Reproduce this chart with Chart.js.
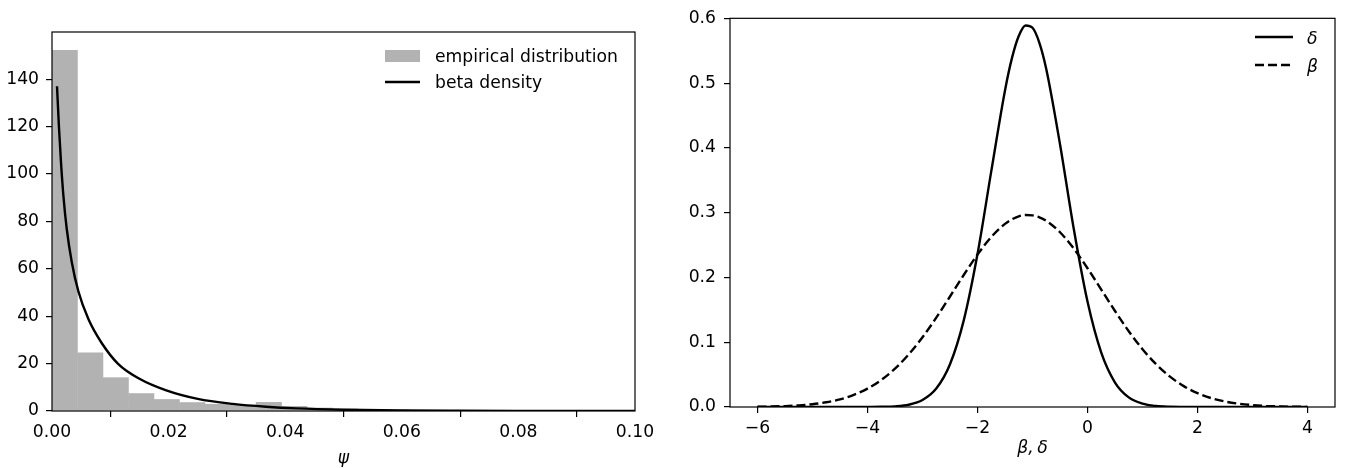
<!DOCTYPE html>
<html>
<head>
<meta charset="utf-8">
<script src="https://cdn.jsdelivr.net/npm/chart.js@4.4.0/dist/chart.umd.min.js"></script>
<style>
  body { margin: 0; background: #fff; }
  #left { position: absolute; left: 0; top: 0; }
  #right { position: absolute; left: 660px; top: 0; }
</style>
</head>
<body>
<canvas id="left" width="660" height="468"></canvas>
<canvas id="right" width="689" height="468"></canvas>
<script>
// left panel: histogram of psi + fitted beta density
const binLeft = [0, 0.004375, 0.00875, 0.013125, 0.0175, 0.021875, 0.02625, 0.030625, 0.035, 0.039375, 0.04375, 0.048125, 0.0525, 0.056875];
const binWidth = 0.004375;
const histHeights = [152.3, 24.7, 14.2, 7.5, 5.0, 3.7, 3.0, 2.6, 3.8, 2.1, 1.4, 1.0, 0.8, 0.6];
const betaX = [0.00086, 0.0012, 0.00154, 0.00195, 0.00252, 0.00338, 0.00452, 0.00624, 0.00852, 0.01138, 0.015, 0.0196, 0.025, 0.031, 0.0367, 0.042, 0.05, 0.06, 0.07, 0.08, 0.09, 0.1];
const betaY = [137, 119.5, 105, 91, 77, 63, 50.5, 38.8, 28.7, 19.8, 13.6, 8.7, 5.1, 3.0, 1.8, 1.1, 0.55, 0.24, 0.11, 0.05, 0.023, 0.011];
const psiTicks = [0, 0.02, 0.04, 0.06, 0.08, 0.1];
const countTicks = [0, 20, 40, 60, 80, 100, 120, 140];

// right panel: posterior densities of delta and beta
const normX = [-6, -5.75, -5.5, -5.25, -5, -4.75, -4.5, -4.25, -4, -3.75, -3.5, -3.25, -3, -2.75, -2.5, -2.25, -2, -1.75, -1.5,
  -1.375, -1.25, -1.125, -1, -0.875,
  -0.75, -0.5, -0.25, 0, 0.25, 0.5, 0.75, 1, 1.25, 1.5, 1.75, 2, 2.25, 2.5, 2.75, 3, 3.25, 3.5, 3.75, 4];
const deltaY = [0, 0, 0, 0, 0, 0, 0, 0, 0.0001, 0.0003, 0.001, 0.0035, 0.0107, 0.0284, 0.066, 0.1337, 0.2361, 0.3637, 0.4887,
  0.5381, 0.5727, 0.589, 0.5854, 0.5622,
  0.5218, 0.4057, 0.2751, 0.1627, 0.0839, 0.0378, 0.0148, 0.0051, 0.0015, 0.0004, 0.0001, 0, 0, 0, 0, 0, 0, 0, 0, 0];
const betaPostY = [0.0004, 0.0007, 0.0014, 0.0025, 0.0043, 0.0073, 0.0118, 0.0187, 0.0284, 0.0417, 0.0592, 0.0813, 0.1077, 0.1379, 0.1706, 0.2038, 0.2353, 0.2624, 0.2827,
  0.2897, 0.2943, 0.2965, 0.2959, 0.2929,
  0.2875, 0.2698, 0.2446, 0.2142, 0.1813, 0.1482, 0.117, 0.0893, 0.0658, 0.0468, 0.0322, 0.0214, 0.0137, 0.0085, 0.0051, 0.003, 0.0017, 0.0009, 0.0005, 0.0002];
const paramTicks = [-6, -4, -2, 0, 2, 4];
const densTicks = [0, 0.1, 0.2, 0.3, 0.4, 0.5, 0.6];

const FONT = 'DejaVu Sans';
const FS = 17.2;
Chart.defaults.font.family = FONT;
Chart.defaults.font.size = FS;
Chart.defaults.color = '#000';
Chart.defaults.animation = false;

const fixTicks = (list) => (scale) => { scale.ticks = list.map(v => ({ value: v })); };
const minus = (s) => String(s).replace('-', '\u2212');

// box around the axes + matplotlib-like legend inside the plot
const frame = {
  id: 'frame',
  afterDatasetsDraw(chart, args, opts) {
    const { ctx, chartArea: a } = chart;
    ctx.save();
    ctx.strokeStyle = '#000';
    ctx.lineWidth = 1.2;
    ctx.strokeRect(a.left, a.top, a.right - a.left, a.bottom - a.top);

    ctx.font = (opts.italic ? 'italic ' : '') + FS + 'px "' + FONT + '"';
    ctx.textBaseline = 'alphabetic';
    chart.data.datasets.forEach((ds, i) => {
      const y = opts.y + i * opts.gap;
      if (ds.type === 'bar') {
        ctx.fillStyle = ds.backgroundColor;
        ctx.fillRect(opts.x, y - 6, opts.len, 12);
      } else {
        ctx.strokeStyle = ds.borderColor;
        ctx.lineWidth = ds.borderWidth;
        ctx.setLineDash(ds.borderDash || []);
        ctx.beginPath();
        ctx.moveTo(opts.x, y);
        ctx.lineTo(opts.x + opts.len, y);
        ctx.stroke();
        ctx.setLineDash([]);
      }
      ctx.fillStyle = '#000';
      ctx.fillText(ds.label, opts.textX, y + opts.dy);
    });
    ctx.restore();
  }
};

function axisStyle(extra) {
  return Object.assign({
    type: 'linear',
    border: { display: false },
    grid: { display: true, drawOnChartArea: false, drawTicks: true, tickLength: 6, color: '#000', lineWidth: 1.2 },
  }, extra);
}

new Chart(document.getElementById('left'), {
  type: 'bar',
  data: {
    datasets: [
      {
        type: 'bar',
        label: 'empirical distribution',
        data: binLeft.map((x, i) => ({ x: x + binWidth / 2, y: histHeights[i] })),
        backgroundColor: '#b2b2b2',
        borderWidth: 0,
        barPercentage: 1.02,
        categoryPercentage: 1,
        order: 2,
      },
      {
        type: 'line',
        label: 'beta density',
        data: betaX.map((x, i) => ({ x: x, y: betaY[i] })),
        borderColor: '#000',
        borderWidth: 2.4,
        pointRadius: 0,
        cubicInterpolationMode: 'monotone',
        fill: false,
        order: 1,
      },
    ],
  },
  options: {
    responsive: false,
    layout: { padding: { left: 0, top: 32, right: 25, bottom: 0 } },
    plugins: {
      legend: { display: false },
      tooltip: { enabled: false },
      frame: { x: 385, len: 35, textX: 435, y: 56, gap: 26, dy: 5.5, italic: false },
    },
    scales: {
      x: axisStyle({
        min: 0, max: 0.1, offset: false,
        afterBuildTicks: fixTicks(psiTicks),
        afterFit: (s) => { s.height = 57; },
        ticks: { padding: 5, maxRotation: 0, callback: (v) => v.toFixed(2) },
        title: { display: true, text: 'ψ', font: { style: 'italic', size: FS }, padding: { top: 0, bottom: -1 } },
      }),
      y: axisStyle({
        min: 0, max: 159.9,
        afterBuildTicks: fixTicks(countTicks),
        afterFit: (s) => { s.width = 52; },
        ticks: { padding: 7 },
      }),
    },
  },
  plugins: [frame],
});

new Chart(document.getElementById('right'), {
  type: 'line',
  data: {
    datasets: [
      {
        label: 'δ',
        data: normX.map((x, i) => ({ x: x, y: deltaY[i] })),
        borderColor: '#000',
        borderWidth: 2.4,
        pointRadius: 0,
        cubicInterpolationMode: 'monotone',
        fill: false,
      },
      {
        label: 'β',
        data: normX.map((x, i) => ({ x: x, y: betaPostY[i] })),
        borderColor: '#000',
        borderWidth: 2.4,
        borderDash: [9, 4],
        pointRadius: 0,
        cubicInterpolationMode: 'monotone',
        fill: false,
      },
    ],
  },
  options: {
    responsive: false,
    layout: { padding: { left: 0, top: 13, right: 14, bottom: 0 } },
    plugins: {
      legend: { display: false },
      tooltip: { enabled: false },
      frame: { x: 595, len: 38, textX: 647, y: 37, gap: 28, dy: 6.5, italic: true },
    },
    scales: {
      x: axisStyle({
        min: -6.5, max: 4.5,
        afterBuildTicks: fixTicks(paramTicks),
        afterFit: (s) => { s.height = 61; },
        ticks: { padding: 5, maxRotation: 0, callback: (v) => minus(v) },
        title: { display: true, text: 'β,\u2009δ', font: { style: 'italic', size: FS }, padding: { top: 0, bottom: 9 } },
      }),
      y: axisStyle({
        min: 0, max: 0.6,
        afterBuildTicks: fixTicks(densTicks),
        afterFit: (s) => { s.width = 70; },
        ticks: { padding: 8, callback: (v) => v.toFixed(1) },
      }),
    },
  },
  plugins: [frame],
});
</script>
</body>
</html>
